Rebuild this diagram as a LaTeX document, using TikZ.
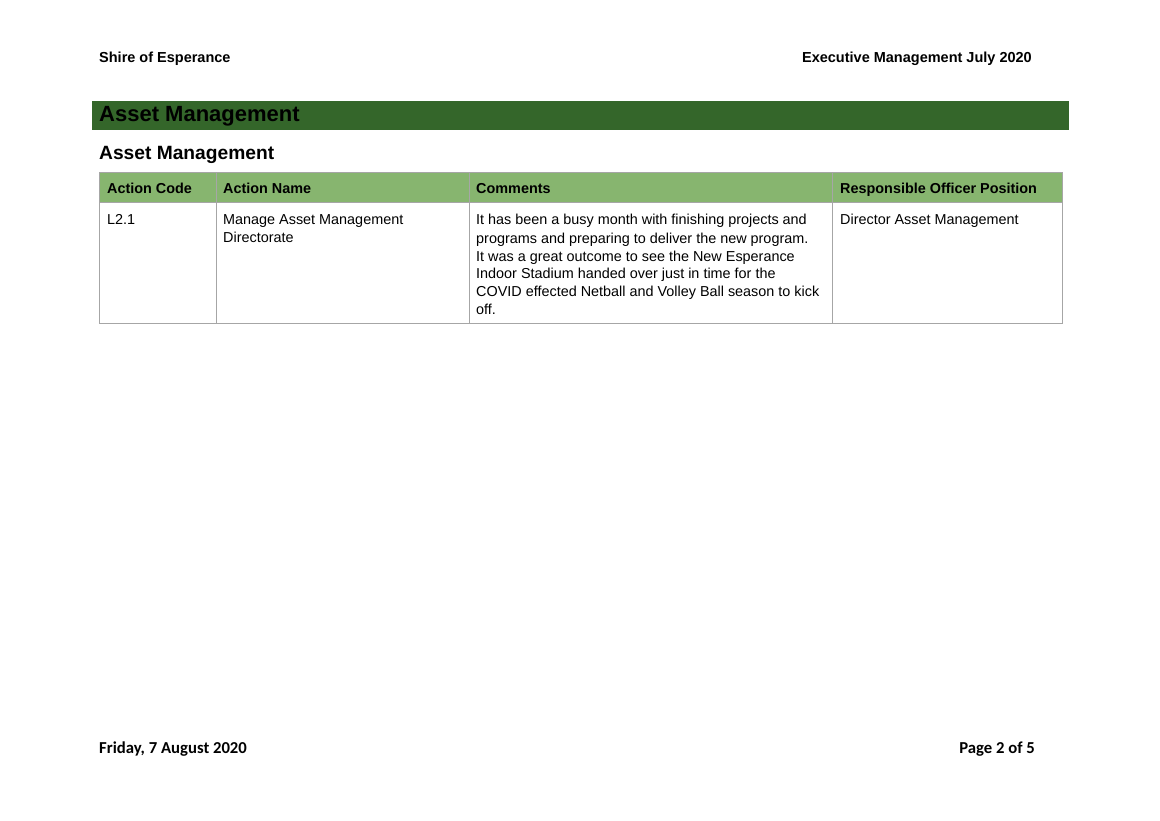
\documentclass[tikz,border=0pt]{standalone}
\usepackage{fontspec}
\setmainfont{Liberation Sans}
\newfontfamily\footfont{Carlito}
\definecolor{barGreen}{HTML}{34662A}
\definecolor{headGreen}{HTML}{87B56F}
\definecolor{ruleGray}{HTML}{A6A6A6}

\tikzset{
  cell/.style={anchor=base west,inner sep=0pt,align=left,font=\fontsize{14.4}{18}\selectfont},
  headcell/.style={cell,font=\fontsize{14.4}{18}\selectfont\bfseries},
  pagehead/.style={inner sep=0pt,font=\fontsize{14.5}{17}\selectfont\bfseries},
  pagefoot/.style={inner sep=0pt,font=\footfont\fontsize{16.7}{19}\selectfont\bfseries},
  grid/.style={draw=ruleGray,line width=1pt}
}

\begin{document}
\begin{tikzpicture}[x=1pt,y=-1pt]
            \useasboundingbox[fill=white] (0,0) rectangle (1160,821);
            % page header
            \node[pagehead,anchor=base west] at (99,63) (shire) {Shire of Esperance};
            \node[pagehead,anchor=base east] at (1032,63) (report) {Executive Management July 2020};
            % section bar
            \fill[barGreen] (92,101) rectangle (1069,130);
            \node[anchor=base west,inner sep=0pt,font=\fontsize{22}{26}\selectfont\bfseries] at (99,122) (section) {Asset Management};
            \node[anchor=base west,inner sep=0pt,font=\fontsize{19.2}{23}\selectfont\bfseries] at (99,160) (subsection) {Asset Management};
            % table
            \fill[headGreen] (99,173) rectangle (1062,203);
            \draw[grid] (99,173) rectangle (1062,323);
            \draw[grid] (99,203) -- (1062,203);
            \foreach \xcol in {216,469,832}
                \draw[grid] (\xcol,173) -- (\xcol,323);
            \node[headcell] at (107,194) (hcode) {Action Code};
            \node[headcell] at (223,194) (hname) {Action Name};
            \node[headcell] at (476,194) (hcomm) {Comments};
            \node[headcell] at (840,194) (hofficer) {Responsible Officer Position};
            % multi-line cells sit on the baseline of their last line
            \node[cell] at (107,225) (code) {L2.1};
            \node[cell] at (223,243) (name) {Manage Asset Management\\Directorate};
            \node[cell] at (476,315) (comm) {It has been a busy month with finishing projects and\\programs and preparing to deliver the new program.\\It was a great outcome to see the New Esperance\\Indoor Stadium handed over just in time for the\\COVID effected Netball and Volley Ball season to kick\\off.};
            \node[cell] at (840,225) (officer) {Director Asset Management};
            % page footer
            \node[pagefoot,anchor=base west] at (99,753) (date) {Friday, 7 August 2020};
            \node[pagefoot,anchor=base east] at (1035,753) (page) {Page 2 of 5};
        \end{tikzpicture}
\end{document}
